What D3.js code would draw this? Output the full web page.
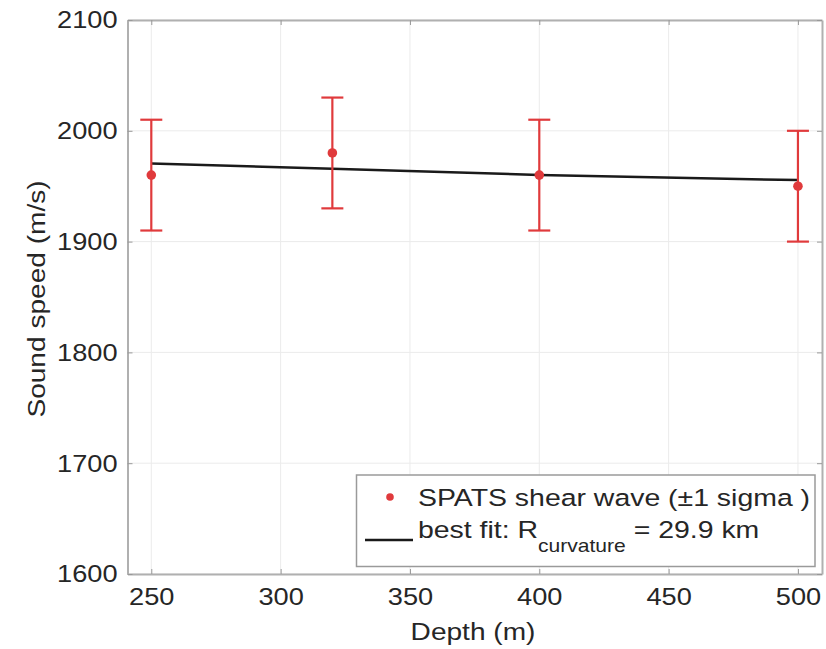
<!DOCTYPE html>
<html>
<head>
<meta charset="utf-8">
<script src="https://cdn.jsdelivr.net/npm/d3@7"></script>
<style>
  html, body { margin: 0; padding: 0; background: #fff; }
  text { font-family: "Liberation Sans", Arial, Helvetica, sans-serif; fill: #262626; }
</style>
</head>
<body>
<svg id="chart" width="826" height="649"></svg>
<script>
// ---- data ----
const depth = [250, 320, 400, 500];
const speed = [1960, 1980, 1960, 1950];
const sigma = [50, 50, 50, 50];
const fitDepth = [250, 320, 400, 500];
const fitSpeed = [1970.5, 1965.8, 1960.2, 1955.5];
const xTicks = [250, 300, 350, 400, 450, 500];
const yTicks = [1600, 1700, 1800, 1900, 2000, 2100];
const xLabel = "Depth (m)";
const yLabel = "Sound speed (m/s)";
const legendPoints = "SPATS shear wave (\u00b11 sigma )";
const legendFitMain = "best fit: R";
const legendFitSub = "curvature";
const legendFitEnd = " = 29.9 km";

// ---- layout ----
const L = 127.5, R = 822, T = 20, B = 574;
const svg = d3.select("#chart");
const x = d3.scaleLinear().domain([240.8, 509.3]).range([L, R]);
const y = d3.scaleLinear().domain([1600, 2100]).range([B, T]);
const red = "#e03a3c";
const axisCol = "#b0b0b0";
const sx = 1.17;   // horizontal stretch of label/legend text
const tsx = 1.11;  // horizontal stretch of tick labels

// grid
svg.append("g").selectAll("line").data(xTicks).join("line")
  .attr("x1", d => x(d)).attr("x2", d => x(d)).attr("y1", T).attr("y2", B)
  .attr("stroke", "#ebebeb").attr("stroke-width", 1);
svg.append("g").selectAll("line").data(yTicks).join("line")
  .attr("x1", L).attr("x2", R).attr("y1", d => y(d)).attr("y2", d => y(d))
  .attr("stroke", "#ebebeb").attr("stroke-width", 1);

// axes (inward ticks)
const fmt = d3.format("d");
const xAxisB = d3.axisBottom(x).tickValues(xTicks).tickFormat(fmt).tickSizeInner(-5).tickSizeOuter(0).tickPadding(14);
const xAxisT = d3.axisTop(x).tickValues(xTicks).tickSizeInner(-5).tickSizeOuter(0).tickFormat("");
const yAxisL = d3.axisLeft(y).tickValues(yTicks).tickFormat(fmt).tickSizeInner(-5).tickSizeOuter(0).tickPadding(10);
const yAxisR = d3.axisRight(y).tickValues(yTicks).tickSizeInner(-5).tickSizeOuter(0).tickFormat("");

function style(g) {
  g.select(".domain").attr("stroke", axisCol).attr("stroke-width", 2);
  g.selectAll(".tick line").attr("stroke", "#999").attr("stroke-width", 1);
  g.selectAll(".tick text").attr("font-size", 24.5).attr("fill", "#262626")
    .attr("font-family", '"Liberation Sans", Arial, sans-serif');
}
const gxB = svg.append("g").attr("transform", `translate(0,${B})`).call(xAxisB).call(style);
svg.append("g").attr("transform", `translate(0,${T})`).call(xAxisT).call(style);
const gyL = svg.append("g").attr("transform", `translate(${L},0)`).call(yAxisL).call(style);
svg.append("g").attr("transform", `translate(${R},0)`).call(yAxisR).call(style);
// stretch tick labels horizontally around their anchor
gxB.selectAll(".tick text").attr("transform", `scale(${tsx},1)`);
gyL.selectAll(".tick text").each(function () {
  const t = d3.select(this); const xx = +t.attr("x");
  t.attr("x", 0).attr("transform", `translate(${xx},0) scale(${tsx},1)`);
});

// fit line
svg.append("path")
  .datum(fitDepth.map((d, i) => [d, fitSpeed[i]]))
  .attr("d", d3.line().x(d => x(d[0])).y(d => y(d[1])))
  .attr("fill", "none").attr("stroke", "#1a1a1a").attr("stroke-width", 2.5);

// error bars
const pts = depth.map((d, i) => ({ d, v: speed[i], s: sigma[i] }));
const eb = svg.append("g").selectAll("g").data(pts).join("g");
eb.append("line").attr("x1", p => x(p.d)).attr("x2", p => x(p.d))
  .attr("y1", p => y(p.v - p.s)).attr("y2", p => y(p.v + p.s))
  .attr("stroke", red).attr("stroke-width", 2.2);
[-1, 1].forEach(k => {
  eb.append("line").attr("x1", p => x(p.d) - 11).attr("x2", p => x(p.d) + 11)
    .attr("y1", p => y(p.v + k * p.s)).attr("y2", p => y(p.v + k * p.s))
    .attr("stroke", red).attr("stroke-width", 2.2);
});
eb.append("circle").attr("cx", p => x(p.d)).attr("cy", p => y(p.v)).attr("r", 4.8).attr("fill", red);

// axis labels
svg.append("text").attr("transform", `translate(473,640) scale(${sx},1)`)
  .attr("text-anchor", "middle").attr("font-size", 24).text(xLabel);
svg.append("text").attr("transform", `translate(45,299) rotate(-90) scale(${sx},1)`)
  .attr("text-anchor", "middle").attr("font-size", 24).text(yLabel);

// legend
const lg = svg.append("g");
lg.append("rect").attr("x", 356.5).attr("y", 475).attr("width", 458.5).attr("height", 91.5)
  .attr("fill", "#fff").attr("stroke", "#9a9a9a").attr("stroke-width", 1.5);
lg.append("circle").attr("cx", 390).attr("cy", 497).attr("r", 3.8).attr("fill", red);
lg.append("text").attr("transform", `translate(418,506) scale(${sx},1)`)
  .attr("font-size", 24.3).text(legendPoints);
lg.append("line").attr("x1", 365).attr("x2", 413).attr("y1", 540).attr("y2", 540)
  .attr("stroke", "#1a1a1a").attr("stroke-width", 2.5);
const ft = lg.append("text").attr("transform", `translate(418,538) scale(${sx},1)`).attr("font-size", 24.3);
ft.append("tspan").text(legendFitMain);
ft.append("tspan").attr("font-size", 18).attr("dy", 14).text(legendFitSub);
ft.append("tspan").attr("dy", -14).text(legendFitEnd);
</script>
</body>
</html>
